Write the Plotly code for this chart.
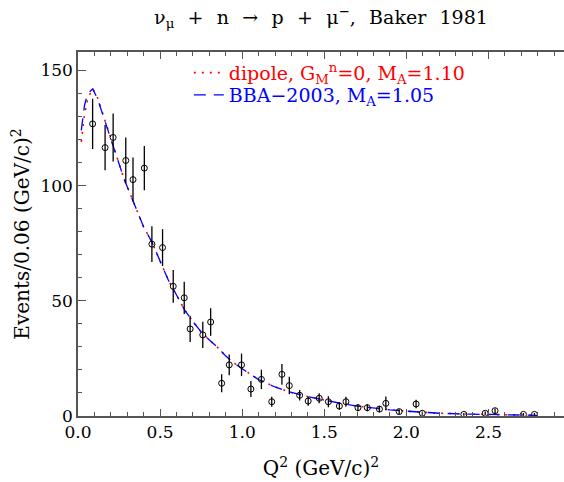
import plotly.graph_objects as go

# measured points (Q^2, events, error)
q2 = [0.089, 0.165, 0.214, 0.291, 0.335, 0.404, 0.450, 0.515, 0.580, 0.647, 0.683,
      0.760, 0.808, 0.875, 0.921, 0.996, 1.053, 1.117, 1.180, 1.242, 1.287, 1.350,
      1.402, 1.469, 1.525, 1.592, 1.632, 1.705, 1.762, 1.836, 1.875, 1.956, 2.059,
      2.097, 2.350, 2.480, 2.540, 2.713, 2.780]
events = [126.8, 116.5, 120.9, 110.9, 102.6, 107.6, 74.6, 73.1, 56.3, 51.3, 37.8,
          35.2, 40.8, 14.2, 22.2, 22.2, 11.7, 15.9, 6.2, 18.1, 13.2, 9.0,
          6.5, 7.7, 6.2, 4.3, 6.2, 3.6, 3.6, 3.0, 5.5, 1.9, 5.2,
          1.2, 0.7, 1.2, 2.3, 0.7, 0.7]
errors = [10.9, 9.8, 10.4, 10.0, 9.6, 9.6, 7.8, 8.0, 7.1, 7.0, 5.7,
          5.7, 6.0, 3.9, 4.5, 4.9, 3.5, 4.2, 2.2, 4.5, 3.8, 2.3,
          2.0, 2.2, 2.4, 1.6, 2.2, 1.5, 1.5, 1.4, 3.0, 1.0, 1.8,
          0.8, 0.6, 0.8, 1.0, 0.6, 0.6]

# model curves
q2_curve = [0.02, 0.04, 0.06, 0.09, 0.12, 0.16, 0.20, 0.24, 0.28, 0.32, 0.36, 0.40,
            0.45, 0.50, 0.55, 0.60, 0.65, 0.70, 0.75, 0.80, 0.85, 0.90, 0.95, 1.00,
            1.10, 1.20, 1.30, 1.40, 1.50, 1.60, 1.70, 1.80, 1.90, 2.00, 2.20, 2.40,
            2.60, 2.80]
dipole = [119, 131, 138, 142, 138, 129, 121, 112, 103, 96, 89, 82,
          75.5, 67, 59, 52.5, 46, 41, 36.5, 33, 29.8, 26, 23, 20.5,
          15.8, 12.6, 10.2, 8.4, 6.8, 5.5, 4.3, 3.4, 2.7, 2.1, 1.2, 0.8,
          0.5, 0.3]
bba = [124, 135, 140, 142, 137.5, 129, 120.5, 112, 103, 96, 89, 82,
       75.5, 67, 59, 52.5, 46, 41, 36.5, 33, 29.8, 26, 23, 20.5,
       15.8, 12.6, 10.2, 8.4, 6.8, 5.5, 4.3, 3.4, 2.7, 2.1, 1.2, 0.8,
       0.5, 0.3]

serif = "DejaVu Serif"
axis_col = '#555'

fig = go.Figure()
fig.add_trace(go.Scatter(
    x=q2_curve, y=dipole, mode='lines', legend='legend',
    name="<span style='color:red'>dipole, G<sub>M</sub><sup>n</sup>=0, M<sub>A</sub>=1.10</span>",
    line=dict(color='red', width=1.6, dash='2px,6px')))
fig.add_trace(go.Scatter(
    x=q2_curve, y=bba, mode='lines', legend='legend2',
    name="<span style='color:blue'>BBA\u22122003, M<sub>A</sub>=1.05</span>",
    line=dict(color='blue', width=1.3, dash='12px,8px')))
fig.add_trace(go.Scatter(
    x=q2, y=events, mode='markers', showlegend=False,
    marker=dict(symbol='circle-open', size=6, color='black', line=dict(width=1)),
    error_y=dict(type='data', array=errors, color='black', thickness=1.3, width=0)))

sp = '\u2002\u2009'
title_txt = ('\u03bd<sub>\u03bc</sub>' + sp + '+' + sp + 'n' + sp + '\u2192' + sp + 'p'
             + sp + '+' + sp + '\u03bc<sup>\u2212</sup>,' + sp + 'Baker' + sp + '1981')

leg = dict(xanchor='left', yanchor='middle', bgcolor='rgba(0,0,0,0)',
           itemwidth=30, font=dict(size=19))

fig.update_layout(
    width=564, height=482,
    margin=dict(l=78, r=0, t=52, b=66),
    plot_bgcolor='white', paper_bgcolor='white',
    font=dict(family=serif, size=17, color='black'),
    title=dict(text=title_txt, x=0.5, xref='paper', xanchor='center',
               y=0.965, yanchor='middle', font=dict(size=19)),
    showlegend=True,
    legend=dict(x=0.228, y=0.943, **leg),
    legend2=dict(x=0.228, y=0.882, **leg),
)
fig.update_xaxes(range=[0, 2.96], showline=True, linecolor=axis_col, linewidth=1.5,
                 mirror='ticks', ticks='inside', ticklen=7, tickcolor=axis_col,
                 dtick=0.5, tickformat='.1f', showgrid=False, zeroline=False,
                 automargin=False,
                 minor=dict(dtick=0.1, ticks='inside', ticklen=4, tickcolor=axis_col),
                 title=dict(text='Q<sup>2</sup> (GeV/c)<sup>2</sup>', standoff=20,
                            font=dict(size=20)))
fig.update_yaxes(range=[0, 158], showline=True, linecolor=axis_col, linewidth=1.5,
                 mirror=False, ticks='inside', ticklen=8, tickcolor=axis_col,
                 dtick=50, showgrid=False, zeroline=False, automargin=False,
                 minor=dict(dtick=10, ticks='inside', ticklen=4, tickcolor=axis_col),
                 title=dict(text='Events/0.06 (GeV/c)<sup>2</sup>', standoff=5))

fig.write_html("out.html", config={'displayModeBar': False},
               post_script="document.body.style.margin='0';")
